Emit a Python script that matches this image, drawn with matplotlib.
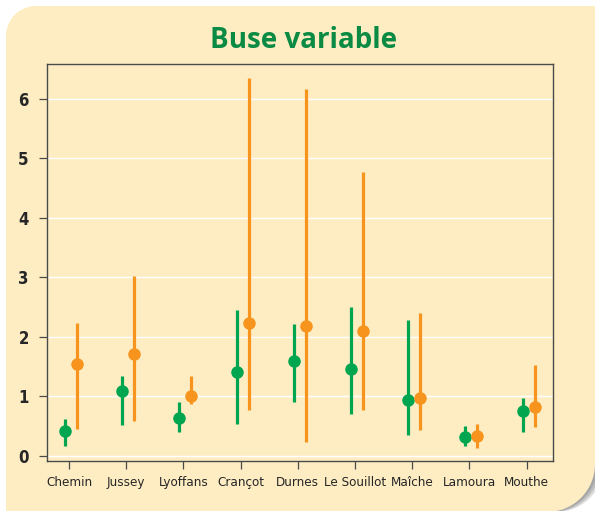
import matplotlib
matplotlib.use("Agg")
import matplotlib.pyplot as plt
from matplotlib.patches import PathPatch
from matplotlib.path import Path
from matplotlib import font_manager as fm
import numpy as np

sites = ["Chemin", "Jussey", "Lyoffans", "Crançot", "Durnes", "Le Souillot", "Maîche", "Lamoura", "Mouthe"]

green_mid = [0.42, 1.09, 0.64, 1.41, 1.60, 1.46, 0.94, 0.32, 0.76]
green_low = [0.16, 0.52, 0.40, 0.53, 0.91, 0.71, 0.35, 0.16, 0.40]
green_high = [0.62, 1.34, 0.90, 2.45, 2.22, 2.51, 2.29, 0.51, 0.97]

orange_mid = [1.55, 1.72, 1.01, 2.23, 2.19, 2.10, 0.97, 0.33, 0.83]
orange_low = [0.45, 0.58, 0.87, 0.77, 0.23, 0.77, 0.44, 0.13, 0.48]
orange_high = [2.23, 3.03, 1.35, 6.35, 6.17, 4.77, 2.40, 0.54, 1.53]

yticks = [0, 1, 2, 3, 4, 5, 6]
title = "Buse variable"

GREEN = "#00a550"
ORANGE = "#f7941d"
CREAM = "#feedc3"
TXT = "#262626"

# pick a condensed font if available
lab_kw = dict(family=["Liberation Sans", "DejaVu Sans"], fontsize=9.0)
try:
    p = fm.findfont(fm.FontProperties(family="Liberation Sans Narrow"), fallback_to_default=False)
    lab_kw = dict(family=["Liberation Sans Narrow", "DejaVu Sans"], fontsize=11)
except Exception:
    p = fm.findfont(fm.FontProperties(family="DejaVu Sans", stretch="condensed"))
    if "Condensed" in p:
        lab_kw = dict(family=["DejaVu Sans", "DejaVu Sans"], fontsize=9.6, fontstretch="condensed")

W, H = 595, 511
fig = plt.figure(figsize=(5.95, 5.11), dpi=100)
fig.patch.set_facecolor("white")


def panel_path(dx=0.0):
    pts = []
    r1 = 30
    cx, cy = 6 + r1, 6 + r1
    for a in np.linspace(np.pi, 1.5 * np.pi, 20):
        pts.append((cx + r1 * np.cos(a), cy + r1 * np.sin(a)))
    pts.append((W + 20, 6))
    r2 = 48
    cx2, cy2 = 590 - r2 + 5, 511 - r2 + 1
    pts.append((W + 20, cy2 - 60))
    pts.append((cx2 + r2, cy2 - 20))
    for a in np.linspace(0, 0.5 * np.pi, 20):
        pts.append((cx2 + r2 * np.cos(a), cy2 + r2 * np.sin(a)))
    pts.append((6, 513))
    pts.append(pts[0])
    pts = [((x + dx) / W, 1 - y / H) for x, y in pts]
    return Path(pts, closed=True)


for dx, al in [(9, 0.25), (6, 0.3), (3, 0.35)]:
    fig.patches.append(PathPatch(panel_path(dx), transform=fig.transFigure,
                                 facecolor="#7a7a7a", edgecolor="none", alpha=al, zorder=0))
fig.patches.append(PathPatch(panel_path(0), transform=fig.transFigure,
                             facecolor=CREAM, edgecolor="none", zorder=1))

ax = fig.add_axes([46.7 / W, 1 - 461 / H, (553.3 - 46.7) / W, (461 - 64.3) / H])
ax.set_facecolor(CREAM)
ax.set_zorder(2)

x = np.arange(len(sites))
gx = x - 0.07
ox = x + 0.14

ax.vlines(gx, green_low, green_high, color=GREEN, lw=2.3, zorder=3)
ax.plot(gx, green_mid, "o", color=GREEN, ms=8, zorder=4)
ax.vlines(ox, orange_low, orange_high, color=ORANGE, lw=2.3, zorder=3)
ax.plot(ox, orange_mid, "o", color=ORANGE, ms=8, zorder=4)

ax.set_xlim(-0.39, 8.465)
ax.set_ylim(-0.084, 6.58)
ax.set_yticks(yticks)
ykw = dict(lab_kw)
ykw["fontsize"] = lab_kw["fontsize"] + 2.4
ax.set_yticklabels([str(t) for t in yticks], color=TXT, fontweight="bold", **ykw)
ax.set_xticks(x)
ax.set_xticklabels(sites, color=TXT, **lab_kw)
ax.yaxis.grid(True, color="white", lw=1.0, zorder=0)
ax.set_axisbelow(True)
for s in ax.spines.values():
    s.set_color("#4a4a4a")
    s.set_linewidth(1.0)
ax.tick_params(axis="both", color="#4a4a4a", length=6, width=0.9)
ax.tick_params(axis="y", pad=7)
ax.tick_params(axis="x", pad=5)

fig.text(304 / W, 1 - 40 / H, title, ha="center", va="center", fontsize=20,
         fontweight="bold", color="#0a8a43", family=["Open Sans", "DejaVu Sans"])

fig.savefig("out.png", dpi=100, facecolor=fig.get_facecolor())
